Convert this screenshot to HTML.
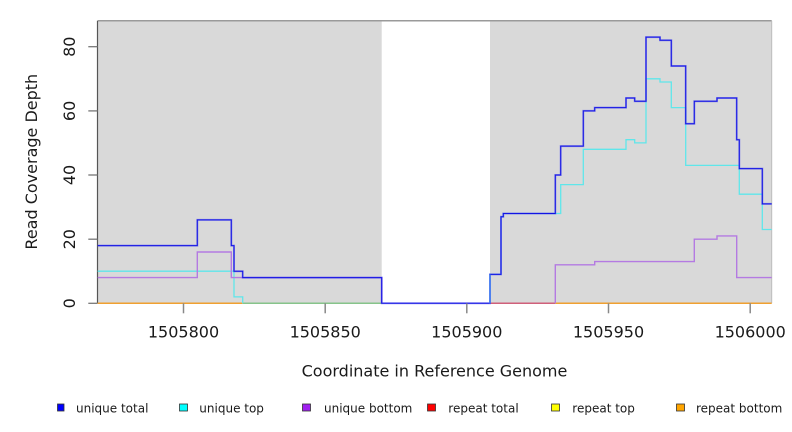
<!DOCTYPE html>
<html>
<head>
<meta charset="utf-8">
<style>
  html,body{margin:0;padding:0;background:#fff;}
  svg{display:block;}
  text{font-family:"DejaVu Sans","Liberation Sans",sans-serif;fill:#1a1a1a;}
</style>
</head>
<body>
<svg width="792" height="432" viewBox="0 0 792 432" xmlns="http://www.w3.org/2000/svg">
  <!-- background panels -->
  <rect x="97.7" y="20.7" width="284" height="282.6" fill="#d9d9d9"/>
  <rect x="490" y="20.7" width="281.7" height="282.6" fill="#d9d9d9"/>
  <!-- frame -->
  <line x1="97.7" y1="20.7" x2="771.7" y2="20.7" stroke="#9a9a9a" stroke-width="1.5"/>
  <line x1="771.7" y1="20.7" x2="771.7" y2="303.3" stroke="#bdbdbd" stroke-width="1"/>
  <line x1="97.5" y1="20.7" x2="97.5" y2="303.3" stroke="#555" stroke-width="1.2"/>

  <!-- zero line segments -->
  <line x1="97.7" y1="303.3" x2="242.7" y2="303.3" stroke="#f0a030" stroke-width="1.5"/>
  <line x1="242.7" y1="303.3" x2="381.7" y2="303.3" stroke="#86c48a" stroke-width="1.5"/>
  <line x1="490" y1="303.3" x2="555.3" y2="303.3" stroke="#d0607a" stroke-width="1.5"/>
  <line x1="555.3" y1="303.3" x2="771.7" y2="303.3" stroke="#f0a030" stroke-width="1.5"/>

  <!-- unique top (cyan) -->
  <path d="M97.7,271.2 H234 V296.9 H242.7 V303.3 M490,303.3 V274.4 H501 V216.7 H503.3 V213.5 H560.7 V184.6 H583.3 V149.3 H626 V139.7 H634.7 V142.9 H646 V78.8 H660 V82 H671.3 V107.6 H685.7 V165.4 H739.3 V194.2 H762.3 V229.5 H771.7" fill="none" stroke="#5fe6ea" stroke-width="1.3"/>
  <!-- unique bottom (purple) -->
  <path d="M97.7,277.6 H197.3 V252 H231.3 V277.6 H381.7 V303.3 M555.3,303.3 V264.8 H594.7 V261.6 H694.3 V239.2 H717 V235.9 H736.7 V277.6 H771.7" fill="none" stroke="#b47ae2" stroke-width="1.4"/>
  <!-- unique total (blue) -->
  <path d="M97.7,245.6 H197.3 V219.9 H231.3 V245.6 H234 V271.2 H242.7 V277.6 H381.7 V303.3 H490 V274.4 H501 V216.7 H503.3 V213.5 H555.3 V175 H560.7 V146.1 H583.3 V110.9 H594.7 V107.6 H626 V98 H634.7 V101.2 H646 V37.1 H660 V40.3 H671.3 V66 H685.7 V123.7 H694.3 V101.2 H717 V98 H736.7 V139.7 H739.3 V168.6 H762.3 V203.9 H771.7" fill="none" stroke="#5a5af0" stroke-width="2" stroke-opacity="0.6"/>
  <path d="M97.7,245.6 H197.3 V219.9 H231.3 V245.6 H234 V271.2 H242.7 V277.6 H381.7 V303.3 H490 V274.4 H501 V216.7 H503.3 V213.5 H555.3 V175 H560.7 V146.1 H583.3 V110.9 H594.7 V107.6 H626 V98 H634.7 V101.2 H646 V37.1 H660 V40.3 H671.3 V66 H685.7 V123.7 H694.3 V101.2 H717 V98 H736.7 V139.7 H739.3 V168.6 H762.3 V203.9 H771.7" fill="none" stroke="#1414e4" stroke-width="1"/>
  <!-- blue-ish vertical at 490 -->
  <line x1="490" y1="303.3" x2="490" y2="274.4" stroke="#3a7af0" stroke-width="1.4"/>

  <!-- x ticks -->
  <g stroke="#888" stroke-width="1.5">
    <line x1="183.5" y1="303.3" x2="183.5" y2="313.3"/>
    <line x1="325.2" y1="303.3" x2="325.2" y2="313.3"/>
    <line x1="466.8" y1="303.3" x2="466.8" y2="313.3"/>
    <line x1="608.5" y1="303.3" x2="608.5" y2="313.3"/>
    <line x1="750.2" y1="303.3" x2="750.2" y2="313.3"/>
  </g>
  <g font-size="16" text-anchor="middle">
    <text x="183.5" y="337.7">1505800</text>
    <text x="325.2" y="337.7">1505850</text>
    <text x="466.8" y="337.7">1505900</text>
    <text x="608.5" y="337.7">1505950</text>
    <text x="750.2" y="337.7">1506000</text>
  </g>

  <!-- y ticks -->
  <g stroke="#777" stroke-width="1.3">
    <line x1="88.3" y1="303.3" x2="97.5" y2="303.3"/>
    <line x1="88.3" y1="239.2" x2="97.5" y2="239.2"/>
    <line x1="88.3" y1="175" x2="97.5" y2="175"/>
    <line x1="88.3" y1="110.9" x2="97.5" y2="110.9"/>
    <line x1="88.3" y1="46.7" x2="97.5" y2="46.7"/>
  </g>
  <g font-size="16" text-anchor="middle">
    <text transform="translate(75,303.3) rotate(-90)">0</text>
    <text transform="translate(75,239.2) rotate(-90)">20</text>
    <text transform="translate(75,175) rotate(-90)">40</text>
    <text transform="translate(75,110.9) rotate(-90)">60</text>
    <text transform="translate(75,46.7) rotate(-90)">80</text>
  </g>

  <!-- axis titles -->
  <text x="434.5" y="376.5" font-size="16" text-anchor="middle">Coordinate in Reference Genome</text>
  <text transform="translate(37,161.7) rotate(-90)" font-size="16" text-anchor="middle">Read Coverage Depth</text>

  <!-- legend -->
  <g stroke="#333" stroke-width="0.8">
    <rect x="57.5" y="404" width="6.5" height="7" fill="#0000ff"/>
    <rect x="179.5" y="404" width="8" height="7" fill="#00ffff"/>
    <rect x="302.5" y="404" width="8" height="7" fill="#a020f0"/>
    <rect x="427.5" y="404" width="8" height="7" fill="#ff0000"/>
    <rect x="551.5" y="404" width="8" height="7" fill="#ffff00"/>
    <rect x="676.5" y="404" width="8" height="7" fill="#ffa500"/>
  </g>
  <g font-size="12">
    <text x="76" y="412.5">unique total</text>
    <text x="199.3" y="412.5">unique top</text>
    <text x="324" y="412.5">unique bottom</text>
    <text x="448.3" y="412.5">repeat total</text>
    <text x="572.3" y="412.5">repeat top</text>
    <text x="696" y="412.5">repeat bottom</text>
  </g>
</svg>
</body>
</html>
